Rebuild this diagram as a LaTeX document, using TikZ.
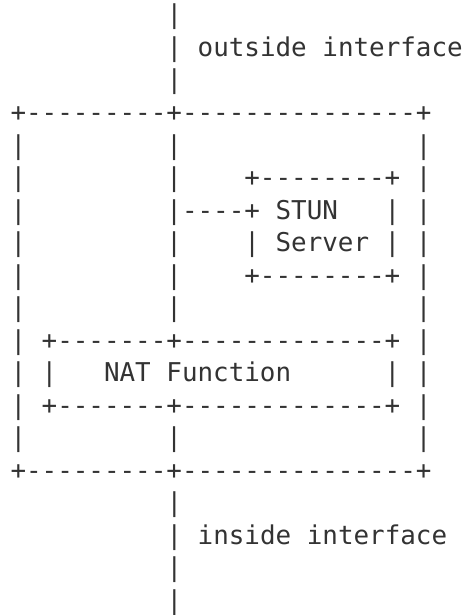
\documentclass[tikz,border=0pt]{standalone}
\usepackage{fontspec}
\setmonofont{DejaVu Sans Mono}
\definecolor{asciiink}{HTML}{333333}
% character grid: column pitch, line pitch, origin of column 0 / first baseline
\def\gridcw{15.6}
\def\gridlh{32.5}
\def\gridx{10.5}
\def\gridy{24}
\tikzset{
  asciiline/.style={anchor=base west, inner sep=0pt, outer sep=0pt,
    text=asciiink, font=\ttfamily\fontsize{25.9}{32.5}\selectfont}
}
% \asciirow{name}{column}{row}{text}
\newcommand\asciirow[4]{%
  \node[asciiline] (#1) at ({\gridx+\gridcw*#2},{\gridy+\gridlh*(#3-1)}) {#4};}
\begin{document}
\begin{tikzpicture}[x=1pt,y=-1pt]
\path[use as bounding box] (0,0) rectangle (466,615);
\asciirow{r1}{10}{1}{|}
\asciirow{r2}{10}{2}{|~outside~interface}
\asciirow{r3}{10}{3}{|}
\asciirow{r4}{0}{4}{+---------+---------------+}
\asciirow{r5}{0}{5}{|~~~~~~~~~|~~~~~~~~~~~~~~~|}
\asciirow{r6}{0}{6}{|~~~~~~~~~|~~~~+--------+~|}
\asciirow{r7}{0}{7}{|~~~~~~~~~|----+~STUN~~~|~|}
\asciirow{r8}{0}{8}{|~~~~~~~~~|~~~~|~Server~|~|}
\asciirow{r9}{0}{9}{|~~~~~~~~~|~~~~+--------+~|}
\asciirow{r10}{0}{10}{|~~~~~~~~~|~~~~~~~~~~~~~~~|}
\asciirow{r11}{0}{11}{|~+-------+-------------+~|}
\asciirow{r12}{0}{12}{|~|~~~NAT~Function~~~~~~|~|}
\asciirow{r13}{0}{13}{|~+-------+-------------+~|}
\asciirow{r14}{0}{14}{|~~~~~~~~~|~~~~~~~~~~~~~~~|}
\asciirow{r15}{0}{15}{+---------+---------------+}
\asciirow{r16}{10}{16}{|}
\asciirow{r17}{10}{17}{|~inside~interface}
\asciirow{r18}{10}{18}{|}
\asciirow{r19}{10}{19}{|}
\end{tikzpicture}
\end{document}
